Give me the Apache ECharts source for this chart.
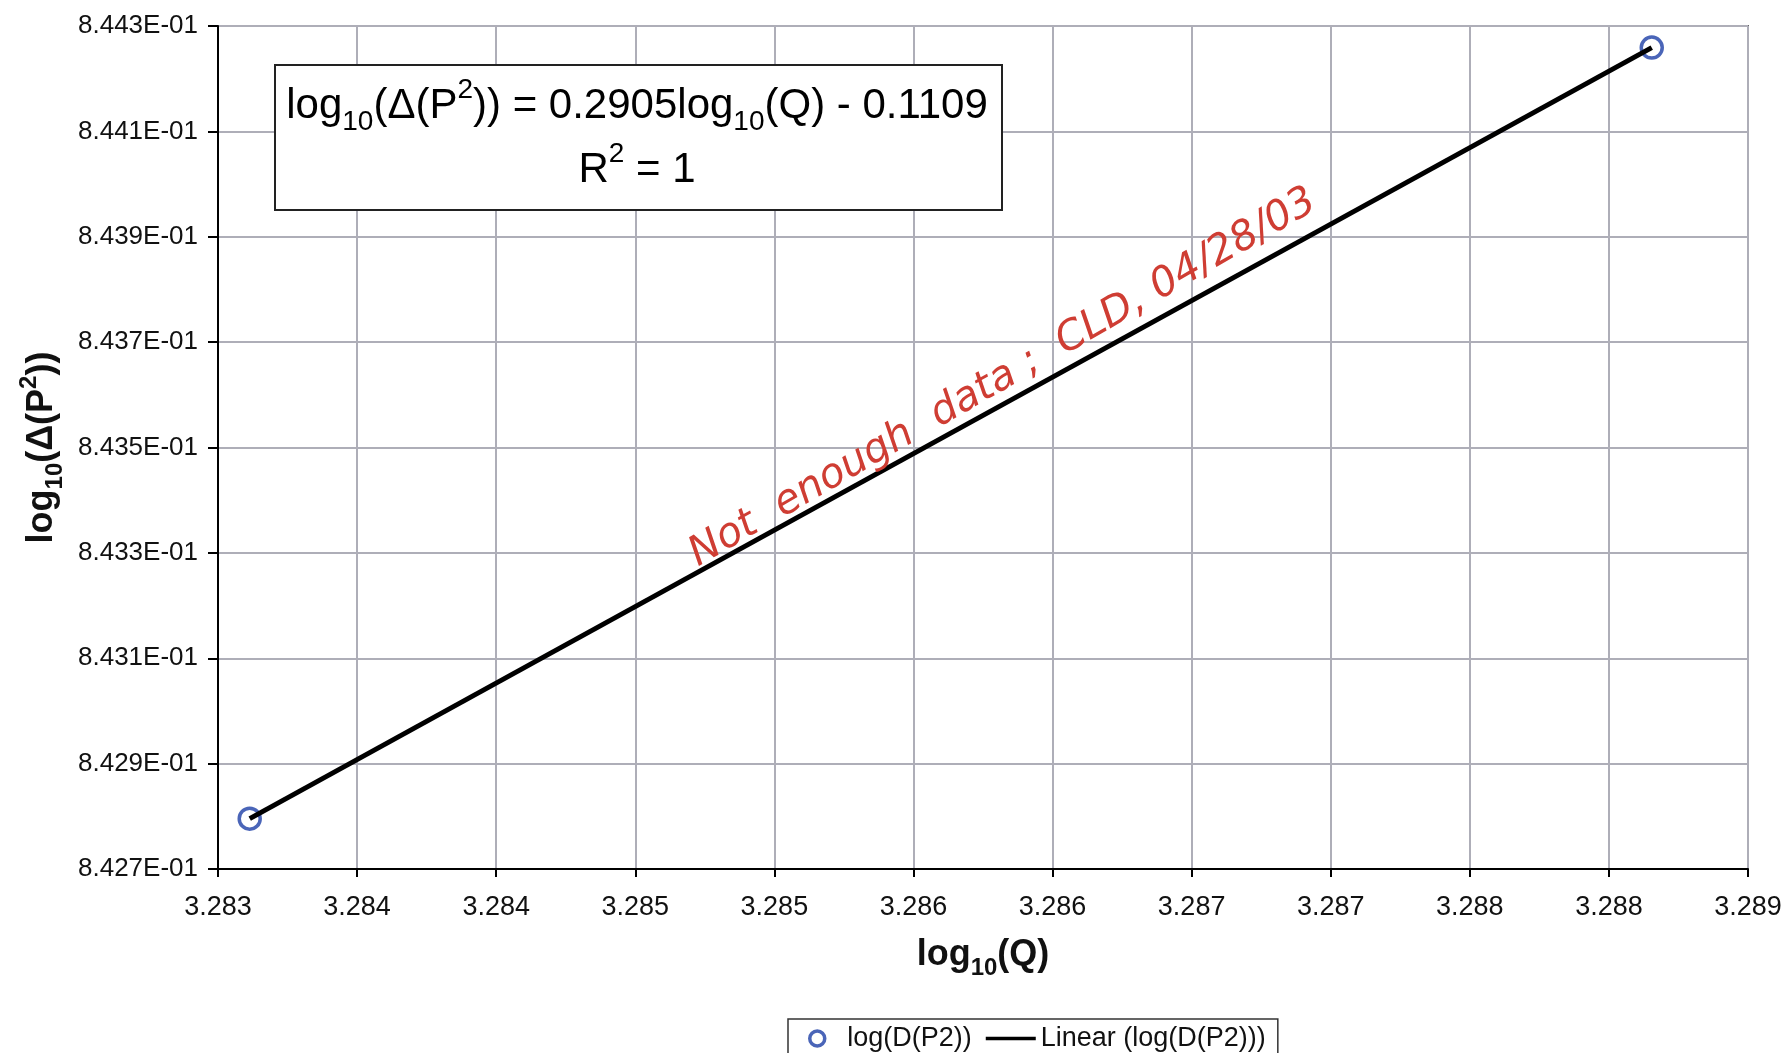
<!DOCTYPE html>
<html>
<head>
<meta charset="utf-8">
<script src="https://cdn.jsdelivr.net/npm/echarts@6/dist/echarts.min.js"></script>
<style>html,body{margin:0;padding:0;background:#fff;}#c{width:1790px;height:1053px;}</style>
</head>
<body>
<div id="c"></div>
<script>
// ---- data ----
const pointX = [3.283114, 3.288154];
const pointY = [0.8427955, 0.844259];
const trendX = [3.283114, 3.288154];
const trendY = [0.8427955, 0.844259];
const xTickLabels = ['3.283','3.284','3.284','3.285','3.285','3.286','3.286','3.287','3.287','3.288','3.288','3.289'];
const yTickLabels = ['8.427E-01','8.429E-01','8.431E-01','8.433E-01','8.435E-01','8.437E-01','8.439E-01','8.441E-01','8.443E-01'];
const seriesNames = ['log(D(P2))', 'Linear (log(D(P2)))'];
const eqLine1 = ['log', '10', '(Δ(P', '2', ')) = 0.2905log', '10', '(Q) - 0.1109'];
const eqLine2 = ['R', '2', ' = 1'];
const annotation = 'Not  enough  data ;  CLD, 04/28/03';

const xMin = 3.283, xMax = 3.2885, xInt = 0.0005;
const yMin = 0.8427, yMax = 0.8443, yInt = 0.0002;
const FF = '"Liberation Sans", Arial, sans-serif';
const BLUE = '#1d3fa6';

const chart = echarts.init(document.getElementById('c'));
const gridColor = '#aeaeb8';

function eqRich(parts, kinds) {
  return parts.map((p, i) => '{' + kinds[i] + '|' + p + '}').join('');
}
const titleRich = {
  b: { fontSize: 36, fontWeight: 'bold', color: '#111', fontFamily: FF, lineHeight: 50, verticalAlign: 'middle' },
  s: { fontSize: 24, fontWeight: 'bold', color: '#111', fontFamily: FF, lineHeight: 50, verticalAlign: 'bottom' },
  p: { fontSize: 24, fontWeight: 'bold', color: '#111', fontFamily: FF, lineHeight: 50, verticalAlign: 'top' }
};

chart.setOption({
  animation: false,
  backgroundColor: '#fff',
  textStyle: { fontFamily: FF },
  grid: { left: 218, right: 42, top: 26, bottom: 184, show: true, borderColor: '#666', borderWidth: 2, backgroundColor: '#fff' },
  xAxis: {
    type: 'value', min: xMin, max: xMax, interval: xInt,
    axisLine: { show: true, onZero: false, lineStyle: { color: '#000', width: 2 } },
    axisTick: { show: true, length: 8, lineStyle: { color: '#000', width: 2 } },
    axisLabel: {
      margin: 25, fontSize: 27, color: '#111', fontFamily: FF,
      formatter: v => xTickLabels[Math.round((v - xMin) / xInt)] || ''
    },
    splitLine: { show: true, lineStyle: { color: gridColor, width: 2 } },
    name: '{b|log}{s|10}{b|(Q)}',
    nameLocation: 'middle', nameGap: 61,
    nameTextStyle: { rich: titleRich }
  },
  yAxis: {
    type: 'value', min: yMin, max: yMax, interval: yInt,
    axisLine: { show: true, onZero: false, lineStyle: { color: '#000', width: 2 } },
    axisTick: { show: true, length: 10, lineStyle: { color: '#000', width: 2 } },
    axisLabel: {
      margin: 20, fontSize: 26, color: '#111', fontFamily: FF,
      formatter: v => yTickLabels[Math.round((v - yMin) / yInt)] || ''
    },
    splitLine: { show: true, lineStyle: { color: gridColor, width: 2 } },
    name: '{b|log}{s|10}{b|(Δ(P}{p|2}{b|))}',
    nameLocation: 'middle', nameGap: 150, nameRotate: 90,
    nameTextStyle: { rich: titleRich }
  },
  legend: {
    left: 788, top: 1019,
    padding: [6, 12, 14, 20],
    borderColor: '#333', borderWidth: 1.5, borderRadius: 0,
    backgroundColor: '#fff',
    itemGap: 14, itemWidth: 50, itemHeight: 15,
    textStyle: { fontSize: 27, color: '#111', fontFamily: FF },
    data: [
      { name: seriesNames[0], icon: 'circle', itemStyle: { color: 'rgba(255,255,255,0)', borderColor: BLUE, borderWidth: 3.5 } },
      { name: seriesNames[1], icon: 'path://M0,0h0.01v0.01h-0.01z M0,5.8h50v3.4h-50z M0,14.99h0.01v0.01h-0.01z', itemStyle: { color: '#000', borderWidth: 0 } }
    ]
  },
  series: [
    {
      name: seriesNames[0], type: 'scatter',
      symbol: 'circle', symbolSize: 21,
      itemStyle: { color: 'rgba(255,255,255,0)', borderColor: BLUE, borderWidth: 3.5 },
      data: pointX.map((x, i) => [x, pointY[i]]),
      z: 2
    },
    {
      name: seriesNames[1], type: 'line',
      symbol: 'none', showSymbol: false,
      lineStyle: { color: '#000', width: 5 },
      itemStyle: { color: '#000' },
      data: trendX.map((x, i) => [x, trendY[i]]),
      z: 3
    }
  ],
  graphic: [
    {
      type: 'rect', left: 274, top: 64, z: 10,
      shape: { width: 727, height: 145 },
      style: { fill: '#fff', stroke: '#222', lineWidth: 2 }
    },
    {
      type: 'text', x: 637, y: 106, z: 11,
      style: {
        text: eqRich(eqLine1, ['n','s','n','p','n','s','n']),
        align: 'center', verticalAlign: 'middle',
        rich: {
          n: { fontSize: 42, color: '#111', fontFamily: FF, lineHeight: 60, verticalAlign: 'middle' },
          s: { fontSize: 28, color: '#111', fontFamily: FF, lineHeight: 60, verticalAlign: 'bottom' },
          p: { fontSize: 28, color: '#111', fontFamily: FF, lineHeight: 60, verticalAlign: 'top' }
        }
      }
    },
    {
      type: 'text', x: 637, y: 170, z: 11,
      style: {
        text: eqRich(eqLine2, ['n','p','n']),
        align: 'center', verticalAlign: 'middle',
        rich: {
          n: { fontSize: 42, color: '#111', fontFamily: FF, lineHeight: 60, verticalAlign: 'middle' },
          p: { fontSize: 28, color: '#111', fontFamily: FF, lineHeight: 60, verticalAlign: 'top' }
        }
      }
    },
    {
      type: 'text', x: 1003, y: 378, z: 12,
      rotation: 30 * Math.PI / 180,
      style: {
        text: annotation,
        align: 'center', verticalAlign: 'middle',
        fontSize: 41, fontStyle: 'italic', fontWeight: 'lighter',
        fontFamily: '"DejaVu Sans", sans-serif',
        fill: '#cf3d33'
      }
    }
  ]
});
</script>
</body>
</html>
